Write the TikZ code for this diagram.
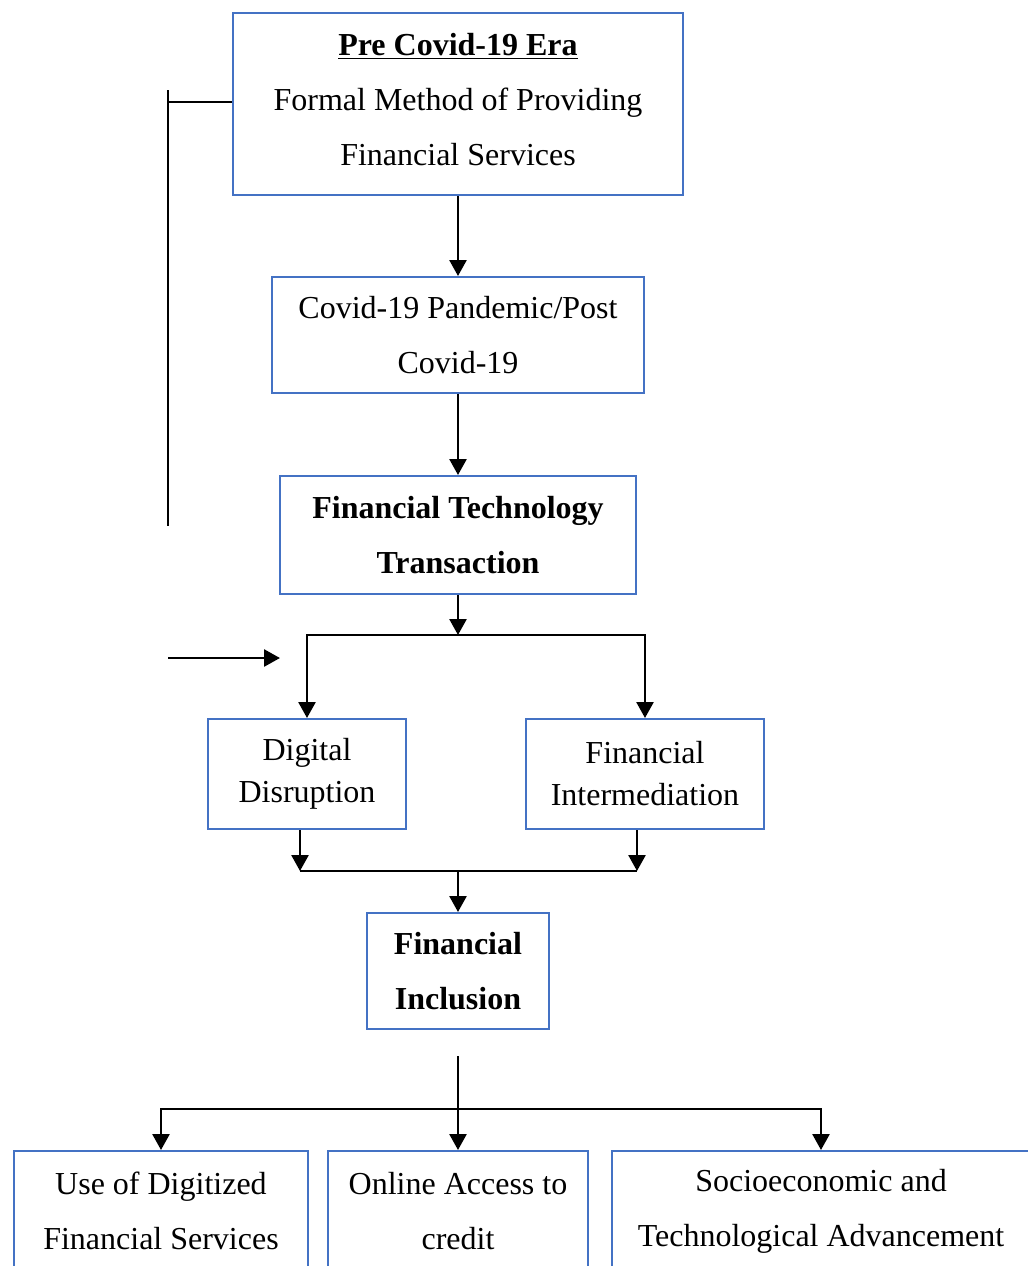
\documentclass[tikz,border=0pt]{standalone}
\usepackage{fontspec}
\setmainfont{Liberation Serif}
\usetikzlibrary{arrows.meta}
\definecolor{boxblue}{HTML}{4472C4}
\newcommand{\dblsp}{\fontsize{16pt}{27.5pt}\selectfont}
\newcommand{\sglsp}{\fontsize{16pt}{21pt}\selectfont}

\begin{document}
\begin{tikzpicture}[x=0.5pt, y=-0.5pt,
    box/.style = {draw=boxblue, line width=1pt, align=center, inner sep=0pt, font=\dblsp},
    arr/.style = {line width=1.3pt, -{Triangle[length=8pt, width=8.5pt]}},
    ln/.style = {line width=1.3pt}]
    \useasboundingbox (0,0) rectangle (1028,1266);
    \clip (0,0) rectangle (1028,1266);

    % boxes
    \node[box, minimum width=225pt, minimum height=91pt] (pre) at (458,104)
        {\underline{\textbf{Pre Covid-19 Era}}\\Formal Method of Providing\\Financial Services\rule[-5pt]{0pt}{5pt}};
    \node[box, minimum width=186pt, minimum height=58pt] (pandemic) at (458,335)
        {Covid-19 Pandemic/Post\\Covid-19};
    \node[box, minimum width=178pt, minimum height=59pt, font=\dblsp\bfseries] (fintech) at (458,535)
        {Financial Technology\\Transaction};
    \node[box, minimum width=99pt, minimum height=55pt, font=\sglsp] (digital) at (307,774)
        {Digital\\Disruption};
    \node[box, minimum width=119pt, minimum height=55pt, font=\sglsp] (interm) at (645,774)
        {Financial\\Intermediation};
    \node[box, minimum width=91pt, minimum height=58pt, font=\dblsp\bfseries] (incl) at (458,971)
        {Financial\\Inclusion};
    \node[box, minimum width=147pt, minimum height=60pt] (use) at (161,1211)
        {Use of Digitized\\Financial Services};
    \node[box, minimum width=130pt, minimum height=60pt] (online) at (458,1211)
        {Online Access to\\credit};
    \node[box, minimum width=209pt, minimum height=60pt] (socio) at (821,1211)
        {Socioeconomic and\\Technological Advancement\rule{0pt}{0pt}};

    % free ends
    \coordinate (lt) at (168,90);
    \coordinate (lj) at (168,102);
    \coordinate (lb) at (168,526);
    \coordinate (la) at (168,658);
    \coordinate (lz) at (280,658);
    \coordinate (s1) at (458,635);
    \coordinate (dl) at (300,871);
    \coordinate (dr) at (637,871);
    \coordinate (m1) at (458,871);
    \coordinate (b0) at (458,1056);
    \coordinate (b1) at (458,1109);

    % connectors
    \draw[ln] (lt) -- (lb);
    \draw[ln] (lj) -- (lj -| pre.west);
    \draw[arr] (la) -- (lz);
    \draw[arr] (pre) -- (pandemic);
    \draw[arr] (pandemic) -- (fintech);
    \draw[arr] (fintech) -- (s1);
    \draw[arr] (s1) -| (digital.north);
    \draw[arr] (s1) -| (interm.north);
    \draw[arr] (dl |- digital.south) -- (dl);
    \draw[arr] (dr |- interm.south) -- (dr);
    \draw[ln] (dl) -- (dr);
    \draw[arr] (m1) -- (incl);
    \draw[arr] (b0) -- (online.north);
    \foreach \n in {use, socio}
        \draw[arr] (b1) -| (\n.north);
\end{tikzpicture}
\end{document}
